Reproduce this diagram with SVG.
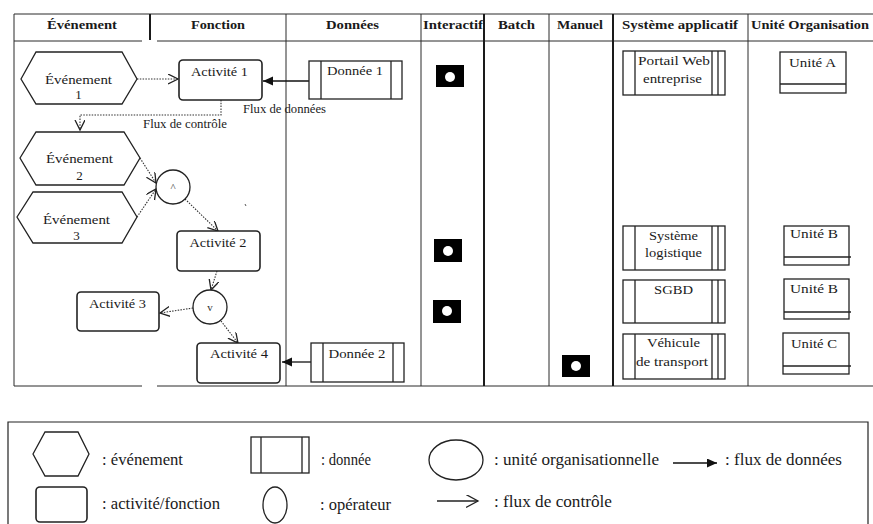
<svg xmlns="http://www.w3.org/2000/svg" width="873" height="524" viewBox="0 0 873 524" font-family="Liberation Serif, DejaVu Serif, serif">
<style>
  .grid{stroke:#2a2a2a;stroke-width:1;fill:none}
  .thick{stroke:#1a1a1a;stroke-width:2;fill:none}
  .hdr{font-weight:bold;font-size:12.5px;fill:#1a1a1a;text-anchor:middle}
  .t{font-size:13px;fill:#1a1a1a;text-anchor:middle}
  .lbl{font-size:11.5px;fill:#1a1a1a}
  .leg{font-size:17px;fill:#1a1a1a}
  .op{font-size:11px;fill:#333;text-anchor:middle}
  .shape{fill:#fff;stroke:#222;stroke-width:1.3}
  .act{fill:#fff;stroke:#222;stroke-width:1.6}
  .ln{stroke:#222;stroke-width:1.3;fill:none}
  .ctrl{stroke:#333;stroke-width:1.1;stroke-dasharray:1.5 1.3;fill:none;marker-end:url(#open)}
  .data{stroke:#111;stroke-width:1.3;fill:none;marker-end:url(#filled)}
  .sq{fill:#000}
  .dot{fill:#fff}
</style>
<defs>
  <marker id="open" markerUnits="userSpaceOnUse" markerWidth="12" markerHeight="12" refX="10" refY="5" orient="auto">
    <path d="M0,0 L10,5 L0,10" fill="none" stroke="#222" stroke-width="1.3"/>
  </marker>
  <marker id="filled" markerUnits="userSpaceOnUse" markerWidth="12" markerHeight="10" refX="10" refY="4.5" orient="auto">
    <path d="M0,0 L10,4.5 L0,9 z" fill="#111"/>
  </marker>
  <marker id="openL" markerUnits="userSpaceOnUse" markerWidth="14" markerHeight="14" refX="12" refY="6.5" orient="auto">
    <path d="M0,0 L12,6.5 L0,13" fill="none" stroke="#222" stroke-width="1.3"/>
  </marker>
</defs>
<rect width="873" height="524" fill="#fff"/>

<g id="table">
  <line class="grid" x1="14" y1="14" x2="873" y2="14"/>
  <line class="grid" x1="14" y1="41" x2="142" y2="41"/>
  <line class="grid" x1="157" y1="41" x2="873" y2="41"/>
  <line class="grid" x1="14" y1="386" x2="142" y2="386"/>
  <line class="grid" x1="157" y1="386" x2="873" y2="386"/>
  <line class="grid" x1="14" y1="14" x2="14" y2="386"/>
  <line class="thick" x1="150" y1="14" x2="150" y2="40"/>
  <line class="grid" x1="286" y1="14" x2="286" y2="386"/>
  <line class="grid" x1="421" y1="14" x2="421" y2="386"/>
  <line class="thick" x1="484" y1="14" x2="484" y2="386"/>
  <line class="grid" x1="549" y1="14" x2="549" y2="386"/>
  <line class="thick" x1="613" y1="14" x2="613" y2="386"/>
  <line class="grid" x1="748" y1="14" x2="748" y2="386"/>
  <text class="hdr" x="82" y="29" textLength="70" lengthAdjust="spacingAndGlyphs">Événement</text>
  <text class="hdr" x="218" y="29" textLength="54" lengthAdjust="spacingAndGlyphs">Fonction</text>
  <text class="hdr" x="352.5" y="29" textLength="53" lengthAdjust="spacingAndGlyphs">Données</text>
  <text class="hdr" x="453" y="29" textLength="60" lengthAdjust="spacingAndGlyphs">Interactif</text>
  <text class="hdr" x="516.5" y="29" textLength="37" lengthAdjust="spacingAndGlyphs">Batch</text>
  <text class="hdr" x="580" y="29" textLength="46" lengthAdjust="spacingAndGlyphs">Manuel</text>
  <text class="hdr" x="680" y="29" textLength="116" lengthAdjust="spacingAndGlyphs">Système applicatif</text>
  <text class="hdr" x="810" y="29" textLength="118" lengthAdjust="spacingAndGlyphs">Unité Organisation</text>
</g>

<g id="connectors">
  <line class="ctrl" x1="137" y1="79" x2="178" y2="79"/>
  <line class="data" x1="309" y1="81" x2="263" y2="81"/>
  <path class="ctrl" d="M221,100 L221,115 L80,115 L80,130"/>
  <line class="ctrl" x1="140" y1="158" x2="156" y2="183"/>
  <line class="ctrl" x1="137" y1="217" x2="156" y2="189"/>
  <line class="ctrl" x1="185" y1="199" x2="218" y2="231"/>
  <line class="ctrl" x1="217" y1="271" x2="211" y2="290"/>
  <line class="ctrl" x1="193" y1="308" x2="160" y2="313"/>
  <line class="ctrl" x1="221" y1="321" x2="238" y2="343"/>
  <line class="data" x1="311" y1="362" x2="282" y2="362"/>
  <text class="lbl" x="243" y="113" textLength="83" lengthAdjust="spacingAndGlyphs">Flux de données</text>
  <text class="lbl" x="143" y="128" textLength="84" lengthAdjust="spacingAndGlyphs">Flux de contrôle</text>
  <line x1="245" y1="204" x2="246" y2="206" stroke="#555" stroke-width="1"/>
</g>

<g id="evt1">
  <polygon class="shape" points="21,79 36,52 122,52 137,79 122,104 36,104"/>
  <text class="t" x="78.5" y="84" textLength="67" lengthAdjust="spacingAndGlyphs">Événement</text>
  <text class="t" x="78.5" y="99">1</text>
</g>
<g id="evt2">
  <polygon class="shape" points="20,158 36,132 124,132 140,158 124,185 36,185"/>
  <text class="t" x="79.5" y="163" textLength="67" lengthAdjust="spacingAndGlyphs">Événement</text>
  <text class="t" x="79.5" y="180">2</text>
</g>
<g id="evt3">
  <polygon class="shape" points="17,217 33,192 122,192 137,217 122,243 33,243"/>
  <text class="t" x="76.5" y="224" textLength="67" lengthAdjust="spacingAndGlyphs">Événement</text>
  <text class="t" x="76.5" y="240">3</text>
</g>

<g id="act1">
  <rect class="act" x="179" y="60" width="83" height="40" rx="4"/>
  <text class="t" x="219.5" y="76" textLength="57" lengthAdjust="spacingAndGlyphs">Activité 1</text>
</g>
<g id="act2">
  <rect class="act" x="177" y="231" width="83" height="40" rx="4"/>
  <text class="t" x="218" y="247" textLength="57" lengthAdjust="spacingAndGlyphs">Activité 2</text>
</g>
<g id="act3">
  <rect class="act" x="77" y="292" width="82" height="39" rx="4"/>
  <text class="t" x="117.5" y="308" textLength="57" lengthAdjust="spacingAndGlyphs">Activité 3</text>
</g>
<g id="act4">
  <rect class="act" x="197" y="343" width="83" height="40" rx="4"/>
  <text class="t" x="239" y="358" textLength="58" lengthAdjust="spacingAndGlyphs">Activité 4</text>
</g>

<g id="and">
  <circle class="shape" cx="173" cy="187" r="17"/>
  <text class="op" x="173" y="191">^</text>
</g>
<g id="or">
  <circle class="shape" cx="210" cy="307" r="17"/>
  <text class="op" x="210" y="311">v</text>
</g>

<g id="donnee1">
  <rect class="shape" x="309" y="61" width="93" height="38"/>
  <line class="ln" x1="321" y1="61" x2="321" y2="99"/>
  <line class="ln" x1="391" y1="61" x2="391" y2="99"/>
  <text class="t" x="355" y="75" textLength="56" lengthAdjust="spacingAndGlyphs">Donnée 1</text>
</g>
<g id="donnee2">
  <rect class="shape" x="311" y="343" width="93" height="39"/>
  <line class="ln" x1="323" y1="343" x2="323" y2="382"/>
  <line class="ln" x1="393" y1="343" x2="393" y2="382"/>
  <text class="t" x="357" y="358" textLength="57" lengthAdjust="spacingAndGlyphs">Donnée 2</text>
</g>

<g id="mark1"><rect class="sq" x="436" y="65" width="28" height="22"/><circle class="dot" cx="450" cy="77" r="5"/></g>
<g id="mark2"><rect class="sq" x="434" y="239" width="28" height="23"/><circle class="dot" cx="448" cy="251" r="5"/></g>
<g id="mark3"><rect class="sq" x="433" y="300" width="28" height="23"/><circle class="dot" cx="447" cy="311" r="5"/></g>
<g id="mark4"><rect class="sq" x="562" y="355" width="28" height="22"/><circle class="dot" cx="576" cy="366" r="5"/></g>

<g id="sys1">
  <rect class="shape" x="623" y="51" width="102" height="44"/>
  <line class="ln" x1="635" y1="51" x2="635" y2="95"/>
  <line class="ln" x1="712" y1="51" x2="712" y2="95"/>
  <line class="ln" x1="718" y1="51" x2="718" y2="95"/>
  <text class="t" x="674" y="65" textLength="72" lengthAdjust="spacingAndGlyphs">Portail Web</text>
  <text class="t" x="672.5" y="83" textLength="59" lengthAdjust="spacingAndGlyphs">entreprise</text>
</g>
<g id="sys2">
  <rect class="shape" x="623" y="226" width="102" height="44"/>
  <line class="ln" x1="635" y1="226" x2="635" y2="270"/>
  <line class="ln" x1="712" y1="226" x2="712" y2="270"/>
  <line class="ln" x1="718" y1="226" x2="718" y2="270"/>
  <text class="t" x="673.5" y="240" textLength="49" lengthAdjust="spacingAndGlyphs">Système</text>
  <text class="t" x="673.5" y="257" textLength="57" lengthAdjust="spacingAndGlyphs">logistique</text>
</g>
<g id="sys3">
  <rect class="shape" x="623" y="280" width="102" height="43"/>
  <line class="ln" x1="635" y1="280" x2="635" y2="323"/>
  <line class="ln" x1="712" y1="280" x2="712" y2="323"/>
  <line class="ln" x1="718" y1="280" x2="718" y2="323"/>
  <text class="t" x="673.5" y="294" textLength="39" lengthAdjust="spacingAndGlyphs">SGBD</text>
</g>
<g id="sys4">
  <rect class="shape" x="623" y="334" width="102" height="45"/>
  <line class="ln" x1="635" y1="334" x2="635" y2="379"/>
  <line class="ln" x1="712" y1="334" x2="712" y2="379"/>
  <line class="ln" x1="718" y1="334" x2="718" y2="379"/>
  <text class="t" x="673.5" y="347" textLength="53" lengthAdjust="spacingAndGlyphs">Véhicule</text>
  <text class="t" x="672" y="366" textLength="72" lengthAdjust="spacingAndGlyphs">de transport</text>
</g>

<g id="uniteA">
  <rect class="shape" x="780" y="52" width="66" height="41" stroke-width="1.1"/>
  <line class="ln" x1="780" y1="84" x2="846" y2="84" stroke-width="1.1"/>
  <text class="t" x="812.5" y="67" textLength="47" lengthAdjust="spacingAndGlyphs">Unité A</text>
</g>
<g id="uniteB1">
  <rect class="shape" x="784" y="226" width="65" height="39" stroke-width="1.1"/>
  <line class="ln" x1="784" y1="257" x2="851" y2="257" stroke-width="1.1"/>
  <text class="t" x="814" y="238" textLength="48" lengthAdjust="spacingAndGlyphs">Unité B</text>
</g>
<g id="uniteB2">
  <rect class="shape" x="784" y="279" width="65" height="40" stroke-width="1.1"/>
  <line class="ln" x1="784" y1="312" x2="851" y2="312" stroke-width="1.1"/>
  <text class="t" x="814" y="293" textLength="48" lengthAdjust="spacingAndGlyphs">Unité B</text>
</g>
<g id="uniteC">
  <rect class="shape" x="783" y="333" width="66" height="41" stroke-width="1.1"/>
  <line class="ln" x1="783" y1="366" x2="851" y2="366" stroke-width="1.1"/>
  <text class="t" x="814" y="348" textLength="46" lengthAdjust="spacingAndGlyphs">Unité C</text>
</g>

<g id="legend">
  <path d="M8,530 L8,422 L868,422 L868,530" fill="none" stroke="#222" stroke-width="1.2"/>
  <polygon class="shape" points="33,454 45,432 78,432 89,454 78,476 45,476"/>
  <text class="leg" x="102" y="465" textLength="81" lengthAdjust="spacingAndGlyphs">: événement</text>
  <rect class="act" x="36" y="487" width="51" height="35" rx="4"/>
  <text class="leg" x="102" y="509" textLength="118" lengthAdjust="spacingAndGlyphs">: activité/fonction</text>
  <rect class="shape" x="251" y="437" width="58" height="36"/>
  <line class="ln" x1="261" y1="437" x2="261" y2="473"/>
  <line class="ln" x1="302" y1="437" x2="302" y2="473"/>
  <text class="leg" x="321" y="465" textLength="50" lengthAdjust="spacingAndGlyphs">: donnée</text>
  <ellipse class="shape" cx="275" cy="505" rx="12" ry="18"/>
  <text class="leg" x="320" y="510" textLength="71" lengthAdjust="spacingAndGlyphs">: opérateur</text>
  <ellipse class="shape" cx="456" cy="460" rx="27" ry="20"/>
  <text class="leg" x="494" y="465" textLength="165" lengthAdjust="spacingAndGlyphs">: unité organisationnelle</text>
  <line class="data" x1="673" y1="463" x2="717" y2="463"/>
  <text class="leg" x="725" y="465" textLength="117" lengthAdjust="spacingAndGlyphs">: flux de données</text>
  <line x1="437" y1="501" x2="478" y2="501" stroke="#222" stroke-width="1.3" marker-end="url(#openL)"/>
  <text class="leg" x="494" y="507" textLength="118" lengthAdjust="spacingAndGlyphs">: flux de contrôle</text>
</g>
</svg>
